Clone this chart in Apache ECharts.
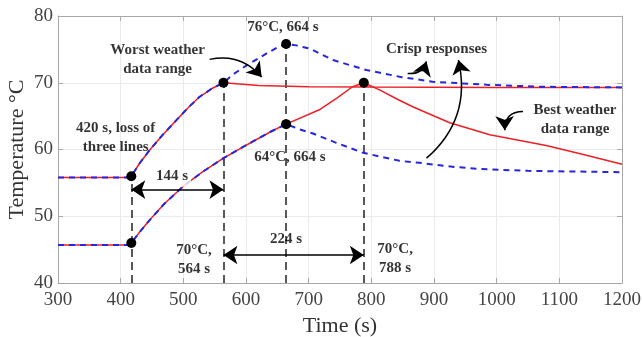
<!DOCTYPE html>
<html><head><meta charset="utf-8">
<script src="https://cdn.jsdelivr.net/npm/echarts@6/dist/echarts.min.js"></script>
<style>html,body{margin:0;padding:0;background:#fff}#c{width:643px;height:337px}</style>
</head><body><div id="c"></div>
<script>
// ---- data ----
var xTicks = [300, 400, 500, 600, 700, 800, 900, 1000, 1100, 1200];
var yTicks = [40, 50, 60, 70, 80];

var redUpperT = [300, 410, 417, 430, 447, 468, 489, 508, 526, 545, 564, 620, 700, 800, 1000, 1200];
var redUpperV = [55.8, 55.8, 56.0, 57.9, 60.0, 62.3, 64.4, 66.3, 67.9, 69.1, 70.0, 69.6, 69.4, 69.35, 69.3, 69.3];

var blueUpperT = [300, 410, 417, 430, 447, 468, 489, 508, 526, 545, 564, 580, 601, 633, 650, 664, 680, 702, 739, 792, 814, 845, 898, 984, 1069, 1200];
var blueUpperV = [55.8, 55.8, 56.0, 57.9, 60.0, 62.3, 64.4, 66.3, 67.9, 69.1, 70.0, 71.3, 72.6, 74.4, 75.3, 75.8, 75.6, 75.1, 73.4, 71.9, 71.5, 70.9, 70.15, 69.7, 69.4, 69.3];

var redLowerT = [300, 410, 417, 430, 447, 470, 500, 530, 564, 590, 611, 640, 664, 718, 745, 770, 788, 814, 840, 866, 925, 989, 1079, 1140, 1200];
var redLowerV = [45.7, 45.7, 46.0, 47.6, 49.5, 51.9, 54.5, 56.6, 58.7, 60.1, 61.2, 62.7, 63.8, 66.0, 67.7, 69.4, 70.0, 68.9, 67.6, 66.4, 64.0, 62.2, 60.6, 59.2, 57.8];

var blueLowerT = [300, 410, 417, 430, 447, 470, 500, 530, 564, 590, 611, 640, 664, 686, 707, 744, 787, 845, 877, 920, 968, 1050, 1200];
var blueLowerV = [45.7, 45.7, 46.0, 47.6, 49.5, 51.9, 54.5, 56.6, 58.7, 60.1, 61.2, 62.7, 63.8, 63.0, 62.4, 61.0, 59.5, 58.3, 58.0, 57.5, 57.1, 56.8, 56.6];

var keyT = [417, 417, 564, 664, 664, 788];
var keyV = [56.0, 46.0, 70.0, 75.8, 63.8, 70.0];

// vertical guide lines: time, top value
var guideT = [417, 564, 664, 788];
var guideTop = [56.0, 70.0, 75.8, 70.0];

// span arrows: [from, to, level]
var spanFrom = [417, 564];
var spanTo = [564, 788];
var spanLevel = [54.0, 44.2];

// annotation texts and their anchor (data coordinates)
var noteText = ['Worst weather\ndata range', '420 s, loss of\nthree lines', '76\u00B0C, 664 s', '64\u00B0C, 664 s', '144 s', '70\u00B0C,\n564 s', '224 s', '70\u00B0C,\n788 s', 'Crisp responses', 'Best weather\ndata range'];
var noteT = [459, 392, 659, 670, 482, 517, 664, 838, 904, 1125];
var noteV = [73.5, 61.8, 78.3, 58.9, 56.0, 43.5, 46.5, 43.7, 75.0, 64.5];

// curved pointer arrows: start, end, curveness
var ptrStart = [[542, 73.5], [858, 71.4], [888, 58.7], [1042, 65.7]];
var ptrEnd = [[625, 70.85], [888, 73.2], [939, 73.4], [1013, 62.9]];
var ptrCurve = [0.3, -0.4, -0.3, -0.5];

function zip(a, b) { return a.map(function (v, i) { return [v, b[i]]; }); }

var FONT = 'Liberation Serif';
var RED = '#ee1f26', BLUE = '#2626dc';
var AX = '#a8a8a8';

var chart = echarts.init(document.getElementById('c'));
var option = {
  animation: false,
  backgroundColor: '#fff',
  grid: { left: 58, right: 21, top: 16, bottom: 54, containLabel: false, outerBoundsMode: 'none' },
  xAxis: [{
    type: 'value', min: 300, max: 1200, interval: 100,
    name: 'Time (s)', nameLocation: 'middle', nameGap: 32, nameMoveOverlap: false,
    nameTextStyle: { fontFamily: FONT, fontSize: 22, color: '#333' },
    axisLine: { show: true, lineStyle: { color: AX, width: 1 } },
    axisTick: { show: true, inside: true, length: 5, lineStyle: { color: AX } },
    axisLabel: { fontFamily: FONT, fontSize: 19, color: '#444', margin: 8, formatter: function (v) { return String(v); } },
    splitLine: { show: true, lineStyle: { color: '#ebebeb', width: 1 } }
  }, {
    type: 'value', position: 'top', min: 300, max: 1200, interval: 100,
    axisLine: { show: true, lineStyle: { color: AX, width: 1 } },
    axisTick: { show: true, inside: true, length: 5, lineStyle: { color: AX } },
    axisLabel: { show: false }, splitLine: { show: false }
  }],
  yAxis: [{
    type: 'value', min: 40, max: 80, interval: 10,
    name: 'Temperature \u00B0C', nameLocation: 'middle', nameGap: 30, nameMoveOverlap: false,
    nameTextStyle: { fontFamily: FONT, fontSize: 22, color: '#333' },
    axisLine: { show: true, lineStyle: { color: AX, width: 1 } },
    axisTick: { show: true, inside: true, length: 5, lineStyle: { color: AX } },
    axisLabel: { fontFamily: FONT, fontSize: 19, color: '#444', margin: 5, formatter: function (v) { return String(v); } },
    splitLine: { show: true, lineStyle: { color: '#ebebeb', width: 1 } }
  }, {
    type: 'value', position: 'right', min: 40, max: 80, interval: 10,
    axisLine: { show: true, lineStyle: { color: AX, width: 1 } },
    axisTick: { show: true, inside: true, length: 5, lineStyle: { color: AX } },
    axisLabel: { show: false }, splitLine: { show: false }
  }],
  series: [
    { type: 'lines', coordinateSystem: 'cartesian2d', silent: true, z: 1,
      lineStyle: { color: '#222', width: 1.5, type: [8, 5], opacity: 1 }, symbol: 'none',
      data: guideT.map(function (t, i) { return { coords: [[t, 40], [t, guideTop[i]]] }; }) },
    { type: 'line', data: zip(redUpperT, redUpperV), showSymbol: false, silent: true, z: 2,
      lineStyle: { color: RED, width: 1.5 } },
    { type: 'line', data: zip(redLowerT, redLowerV), showSymbol: false, silent: true, z: 2,
      lineStyle: { color: RED, width: 1.5 } },
    { type: 'line', data: zip(blueUpperT, blueUpperV), showSymbol: false, silent: true, z: 3,
      lineStyle: { color: BLUE, width: 2, type: [6, 5] } },
    { type: 'line', data: zip(blueLowerT, blueLowerV), showSymbol: false, silent: true, z: 3,
      lineStyle: { color: BLUE, width: 2, type: [6, 5] } },
    { type: 'lines', coordinateSystem: 'cartesian2d', silent: true, z: 4,
      symbol: ['arrow', 'arrow'], symbolSize: 14,
      lineStyle: { color: '#000', width: 1.5, opacity: 1 },
      data: spanFrom.map(function (f, i) { return { coords: [[f, spanLevel[i]], [spanTo[i], spanLevel[i]]] }; }) },
    { type: 'lines', coordinateSystem: 'cartesian2d', silent: true, z: 4,
      symbol: ['none', 'arrow'], symbolSize: 14,
      data: ptrStart.map(function (s, i) {
        return { coords: [s, ptrEnd[i]], lineStyle: { color: '#000', width: 1.5, opacity: 1, curveness: ptrCurve[i] } };
      }) },
    { type: 'scatter', data: zip(keyT, keyV), symbolSize: 10, silent: true, z: 5,
      itemStyle: { color: '#000', opacity: 1 } },
    { type: 'scatter', silent: true, z: 6, symbolSize: 0,
      data: noteText.map(function (t, i) {
        var d = { name: t, value: [noteT[i], noteV[i]] };
        if (t === '144 s') d.label = { backgroundColor: '#fff', padding: [1, 3] };
        return d;
      }),
      label: { show: true, position: 'inside', formatter: '{b}', fontFamily: FONT, fontWeight: 'bold',
        fontSize: 15, lineHeight: 19, color: '#000', align: 'center' } }
  ]
};
chart.setOption(option);
</script>
</body></html>
